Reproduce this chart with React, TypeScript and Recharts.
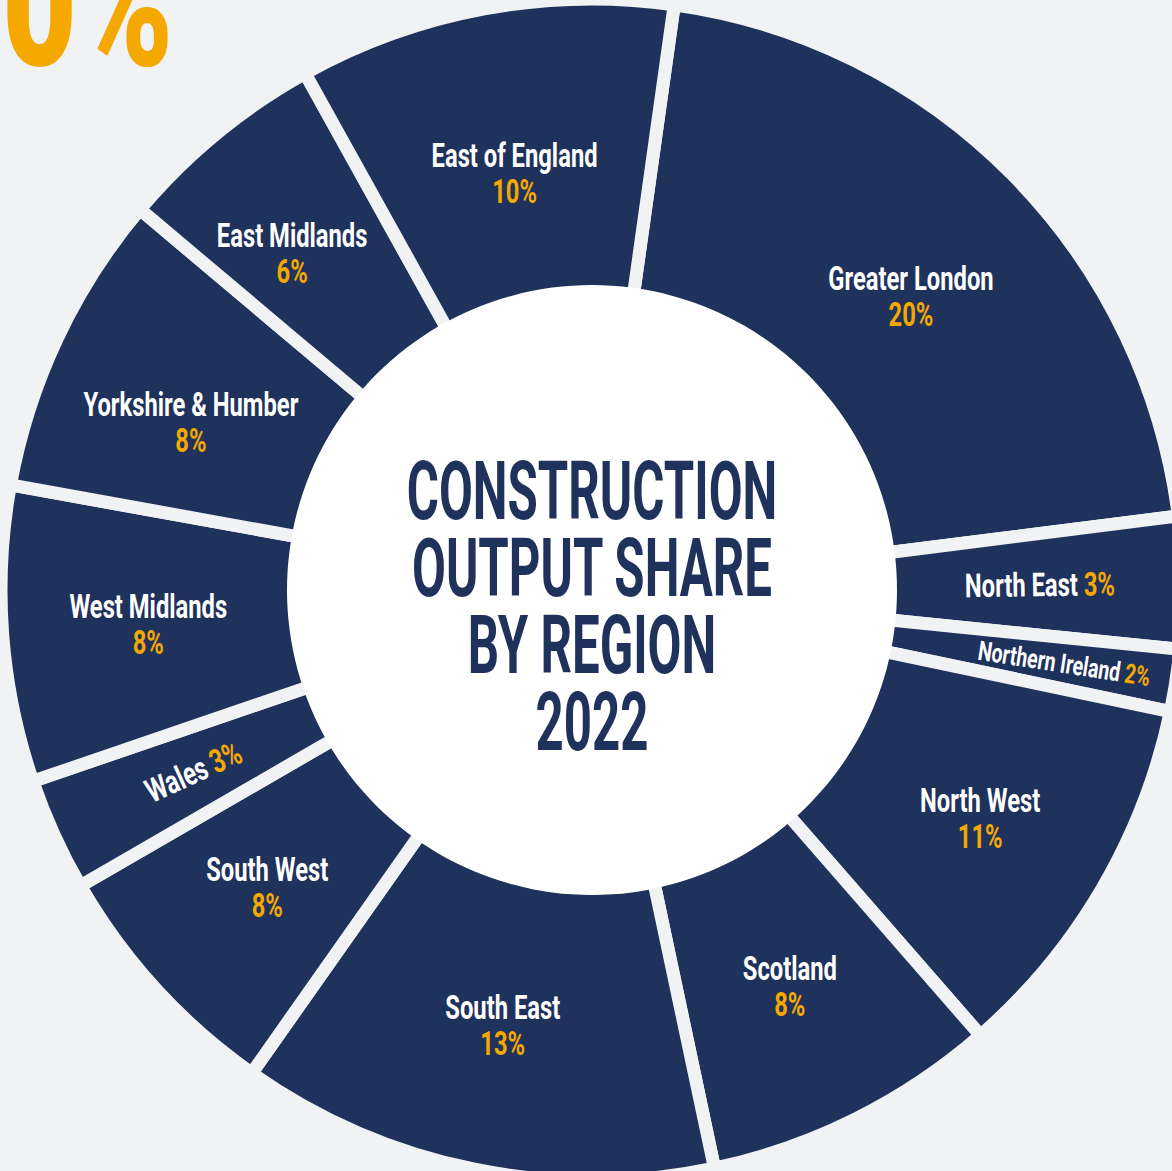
import React from 'react'
import { PieChart, Pie } from 'recharts'

// regions clockwise, starting at Greater London (top right)
const regions = [
  'Greater London',
  'North East',
  'Northern Ireland',
  'North West',
  'Scotland',
  'South East',
  'South West',
  'Wales',
  'West Midlands',
  'Yorkshire & Humber',
  'East Midlands',
  'East of England',
]
// arc sizes as drawn (share of the ring, %)
const arcShare = [20.8, 3.6, 1.7, 10.3, 8.1, 13.1, 6.9, 3.1, 8.1, 8.3, 5.8, 10.3]
// percentages printed on the labels
const shownPct = [20, 3, 2, 11, 8, 13, 8, 3, 8, 8, 6, 10]

const titleLines = ['CONSTRUCTION', 'OUTPUT SHARE', 'BY REGION', '2022']

const data = regions.map((name, i) => ({ name, value: arcShare[i], pct: shownPct[i] }))

const NAVY = '#1f325c'
const ORANGE = '#f5a800'
const BG = '#f0f2f4'
const FONT = 'Roboto, sans-serif'
const RAD = Math.PI / 180

// label placement: radius from centre, small clockwise nudge in degrees
const labelPos: Record<string, { r: number; da?: number }> = {
  'Greater London': { r: 434, da: 1.9 },
  'North West': { r: 450 },
  Scotland: { r: 443 },
  'South East': { r: 444 },
  'South West': { r: 440 },
  'West Midlands': { r: 445 },
  'Yorkshire & Humber': { r: 435, da: -2.4 },
  'East Midlands': { r: 451, da: -2.2 },
  'East of England': { r: 424 },
}

// single-line labels (rotated along the radius)
const inlineLabels: Record<string, { r: number; size: number }> = {
  'North East': { r: 448, size: 33 },
  'Northern Ireland': { r: 478, size: 27 },
  Wales: { r: 438, size: 33 },
}

const renderLabel = (p: any) => {
  const { cx, cy, midAngle, index } = p
  const name = regions[index]
  const pct = `${shownPct[index]}%`
  const inline = inlineLabels[name]
  const pos = labelPos[name] || { r: 440 }
  const r = inline ? inline.r : pos.r
  const ang = midAngle - (pos.da || 0)
  const x = cx + r * Math.cos(-ang * RAD)
  const y = cy + r * Math.sin(-ang * RAD)
  if (inline) {
    let rot = -midAngle
    while (rot > 90) rot -= 180
    while (rot < -90) rot += 180
    return (
      <g transform={`translate(${x},${y}) rotate(${rot}) scale(0.72,1)`}>
        <text
          x={0}
          y={inline.size * 0.36}
          textAnchor="middle"
          fontFamily={FONT}
          fontWeight={700}
          fontSize={inline.size}
          fill="#fff"
        >
          {name} <tspan fill={ORANGE}>{pct}</tspan>
        </text>
      </g>
    )
  }
  return (
    <g transform={`translate(${x},${y}) scale(0.72,1)`}>
      <text x={0} y={-6} textAnchor="middle" fontFamily={FONT} fontWeight={700} fontSize={33} fill="#fff">
        {name}
      </text>
      <text x={0} y={30} textAnchor="middle" fontFamily={FONT} fontWeight={700} fontSize={33} fill={ORANGE}>
        {pct}
      </text>
    </g>
  )
}

const renderTitle = (p: any) => {
  const { cx, cy } = p
  return (
    <g transform={`translate(${cx},${cy}) scale(0.6,1)`}>
      {titleLines.map((line, i) => (
        <text
          key={line}
          x={0}
          y={-71 + i * 77}
          textAnchor="middle"
          fontFamily={FONT}
          fontWeight={700}
          fontSize={82}
          fill={NAVY}
        >
          {line}
        </text>
      ))}
    </g>
  )
}

export default function App() {
  return (
    <div
      style={{
        position: 'absolute',
        left: 0,
        top: 0,
        width: 1172,
        height: 1171,
        background: BG,
        overflow: 'hidden',
      }}
    >
      <svg width={300} height={100} style={{ position: 'absolute', left: 0, top: 0 }}>
        <g transform="translate(2,65) scale(0.72,1)">
          <text x={0} y={0} fontFamily={FONT} fontWeight={900} fontSize={180} fill={ORANGE}>
            0%
          </text>
        </g>
      </svg>
      <PieChart width={1172} height={1171} margin={{ top: 0, right: 0, bottom: 0, left: 0 }}>
        <Pie
          data={data}
          dataKey="value"
          nameKey="name"
          cx={592}
          cy={590}
          innerRadius={280}
          outerRadius={591}
          startAngle={82}
          endAngle={-278}
          fill={NAVY}
          stroke={BG}
          strokeWidth={13}
          label={renderLabel}
          labelLine={false}
          isAnimationActive={false}
        />
        <Pie
          data={[{ name: 'title', value: 1 }]}
          dataKey="value"
          cx={592}
          cy={590}
          innerRadius={0}
          outerRadius={305}
          fill="#ffffff"
          stroke="none"
          label={renderTitle}
          labelLine={false}
          isAnimationActive={false}
        />
      </PieChart>
    </div>
  )
}
